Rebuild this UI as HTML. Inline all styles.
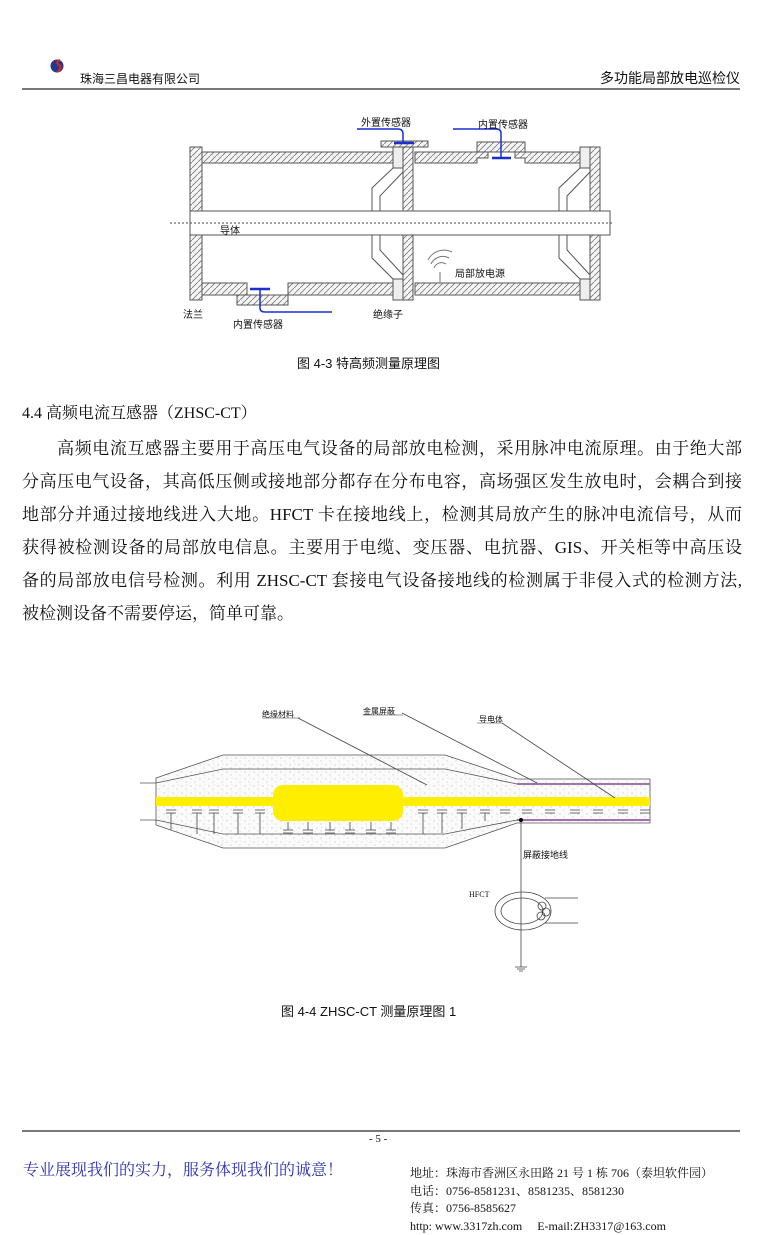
<!DOCTYPE html>
<html><head><meta charset="utf-8"><style>
body{margin:0;background:#fff;}
.pg{position:relative;width:760px;height:1235px;overflow:hidden;font-family:"Liberation Serif","Noto Serif CJK SC",serif;color:#111;}
.a{position:absolute;white-space:nowrap;}
.s{font-family:"Liberation Sans","Noto Sans CJK SC",sans-serif;}
.p{position:absolute;left:22px;width:720px;font-size:17px;line-height:33px;text-align:justify;text-align-last:justify;white-space:nowrap;}
</style></head><body><div class="pg">
<svg class="a" style="left:0;top:0" width="760" height="1235">
<defs>
<pattern id="h" width="6" height="6" patternUnits="userSpaceOnUse"><rect width="6" height="6" fill="#f6f6f6"/><path d="M0 6L6 0" stroke="#777" stroke-width="0.8"/></pattern>
<pattern id="d" width="9" height="7" patternUnits="userSpaceOnUse"><rect width="9" height="7" fill="#fbfbfb"/><circle cx="2" cy="2" r="0.5" fill="#999"/><circle cx="6" cy="5" r="0.5" fill="#aaa"/><circle cx="7" cy="1" r="0.4" fill="#bbb"/></pattern>
</defs>
<!-- header -->
<circle cx="57" cy="66" r="6.5" fill="#233a8a"/><path d="M60 60q-5 2 -1 5q4 3 -2 7" stroke="#d22" stroke-width="2.2" fill="none"/>
<rect x="22" y="88" width="718" height="2" fill="#777"/>
<!-- fig 4-3 -->
<g stroke="#555" stroke-width="1">
<rect x="190" y="147" width="12" height="153" fill="url(#h)"/>
<rect x="202" y="152" width="191" height="11" fill="url(#h)"/>
<path d="M415 152H488V158H477V163H415Z M515 158V152H580V163H525V158Z" fill="url(#h)"/>
<rect x="477" y="142" width="48" height="10" fill="url(#h)"/>
<rect x="381" y="141" width="47" height="6" fill="url(#h)"/>
<rect x="393" y="147" width="10" height="21" fill="#eee"/>
<rect x="403" y="147" width="10" height="153" fill="url(#h)"/>
<rect x="393" y="279" width="10" height="21" fill="#eee"/>
<rect x="580" y="147" width="10" height="21" fill="#eee"/>
<rect x="590" y="147" width="10" height="153" fill="url(#h)"/>
<rect x="580" y="279" width="10" height="21" fill="#eee"/>
<path d="M202 283H247V295H288V283H393V295H202Z" fill="url(#h)"/>
<rect x="237" y="295" width="51" height="10" fill="url(#h)"/>
<rect x="415" y="283" width="165" height="12" fill="url(#h)"/>
<rect x="190" y="211" width="420" height="24" fill="#fff"/>
<path d="M393 168L372 188V211M403 172L380 196V211M393 279L372 258V235M403 275L380 250V235" fill="none"/>
<path d="M580 168L559 188V211M590 172L567 196V211M580 279L559 258V235M590 275L567 250V235" fill="none"/>
</g>
<path d="M170 223H612" stroke="#444" stroke-dasharray="2 2"/>
<g stroke="#1a2fd0" stroke-width="2.5"><path d="M394 143H414M492 158H511M250 289H270"/></g>
<g stroke="#1a2fd0" stroke-width="1.5" fill="none"><path d="M403 143V134Q403 129 398 129H357M501 158V133Q501 129 496 129H453M260 289V308Q260 312 265 312H332"/></g>
<g stroke="#777" fill="none"><path d="M434 268a8 8 0 0 1 12 -4M431 264a13 13 0 0 1 18 -6M428 260a18 18 0 0 1 24 -8"/><path d="M440 272V283"/></g>
<!-- fig 4-4 -->
<g stroke="#555" stroke-width="0.8">
<path d="M156 778L223 755H445L517 779H650V823H517L445 848H223L156 825Z" fill="url(#d)"/>
<path d="M156 783L223 769H445L517 784M156 820L223 834H445L517 820" fill="none"/>
<path d="M140 783H156M140 820H156"/>
</g>
<path d="M517 784H650M517 820H650" stroke="#a070b0" stroke-width="2"/>
<rect x="156" y="797" width="494" height="9" fill="#ffee00"/>
<rect x="273" y="785" width="130" height="36" rx="10" fill="#ffee00"/>
<g stroke="#444" stroke-width="0.8" fill="none">
<path d="M166 810h10M166 813h10M171 813v17M192 810h10M192 813h10M197 813v21M209 810h10M209 813h10M214 813v21M233 810h10M233 813h10M238 813v21M255 810h10M255 813h10M260 813v21
M418 810h10M418 813h10M423 813v21M437 810h10M437 813h10M442 813v20M457 810h10M457 813h10M462 813v16M480 810h10M480 813h10M485 813v8M500 810h10M500 813h10M522 810h10M522 813h10M545 810h10M545 813h10M570 810h10M570 813h10M593 810h10M593 813h10M618 810h10M618 813h10M640 810h10M640 813h10
M283 830h10M283 833h10M288 830v-8M303 830h10M303 833h10M308 830v-8M325 830h10M325 833h10M330 830v-8M345 830h10M345 833h10M350 830v-8M366 830h10M366 833h10M371 830v-8M386 830h10M386 833h10M391 830v-8"/>
<path d="M298 718L427 785M402 713L537 783M502 723L615 798"/>
<path d="M521 820V967M515 967h12M517 969h8M519 971h4"/>
<ellipse cx="523" cy="911" rx="28" ry="19"/><ellipse cx="522" cy="911" rx="21" ry="13"/>
<path d="M545 898H578M545 923H578"/>
<circle cx="542" cy="906" r="4"/><circle cx="546" cy="912" r="4"/><circle cx="541" cy="916" r="4"/>
</g>
<path d="M262 718h38M363 715h40M477 723h25" stroke="#333" stroke-width="0.6"/>
<circle cx="521" cy="820" r="2" fill="#000"/>
<rect x="22" y="1130" width="718" height="2" fill="#777"/>
</svg>
<div class="a s" style="left:80px;top:70px;font-size:12px;">珠海三昌电器有限公司</div>
<div class="a s" style="right:20px;top:68px;font-size:14px;">多功能局部放电巡检仪</div>
<div class="a s" style="left:361px;top:114px;font-size:10px;">外置传感器</div>
<div class="a s" style="left:478px;top:116px;font-size:10px;">内置传感器</div>
<div class="a s" style="left:220px;top:222px;font-size:10px;">导体</div>
<div class="a s" style="left:455px;top:265px;font-size:10px;">局部放电源</div>
<div class="a s" style="left:183px;top:306px;font-size:10px;">法兰</div>
<div class="a s" style="left:233px;top:316px;font-size:10px;">内置传感器</div>
<div class="a s" style="left:373px;top:306px;font-size:10px;">绝缘子</div>
<div class="a s" style="left:297px;top:353px;font-size:13px;">图 4-3 特高频测量原理图</div>
<div class="a" style="left:22px;top:400px;font-size:16px;">4.4 高频电流互感器（ZHSC-CT）</div>
<div class="p" style="top:432px;">　　高频电流互感器主要用于高压电气设备的局部放电检测，采用脉冲电流原理。由于绝大部</div>
<div class="p" style="top:465px;">分高压电气设备，其高低压侧或接地部分都存在分布电容，高场强区发生放电时，会耦合到接</div>
<div class="p" style="top:498px;">地部分并通过接地线进入大地。HFCT 卡在接地线上，检测其局放产生的脉冲电流信号，从而</div>
<div class="p" style="top:531px;">获得被检测设备的局部放电信息。主要用于电缆、变压器、电抗器、GIS、开关柜等中高压设</div>
<div class="p" style="top:564px;">备的局部放电信号检测。利用 ZHSC-CT 套接电气设备接地线的检测属于非侵入式的检测方法,</div>
<div class="p" style="top:597px;text-align-last:left;">被检测设备不需要停运，简单可靠。</div>
<div class="a s" style="left:262px;top:709px;font-size:8px;">绝缘材料</div>
<div class="a s" style="left:363px;top:706px;font-size:8px;">金属屏蔽</div>
<div class="a s" style="left:479px;top:714px;font-size:8px;">导电体</div>
<div class="a s" style="left:523px;top:848px;font-size:9px;">屏蔽接地线</div>
<div class="a" style="left:469px;top:890px;font-size:8px;">HFCT</div>
<div class="a s" style="left:281px;top:1001px;font-size:13px;">图 4-4 ZHSC-CT 测量原理图 1</div>
<div class="a" style="left:369px;top:1133px;font-size:11px;">- 5 -</div>
<div class="a" style="left:23px;top:1157px;font-size:16px;color:#2a30b0;">专业展现我们的实力，服务体现我们的诚意！</div>
<div class="a" style="left:410px;top:1165px;font-size:12px;line-height:17.5px;">地址：珠海市香洲区永田路 21 号 1 栋 706（泰坦软件园）<br>电话：0756-8581231、8581235、8581230<br>传真：0756-8585627<br>http: www.3317zh.com　 E-mail:ZH3317@163.com</div>
</div></body></html>
